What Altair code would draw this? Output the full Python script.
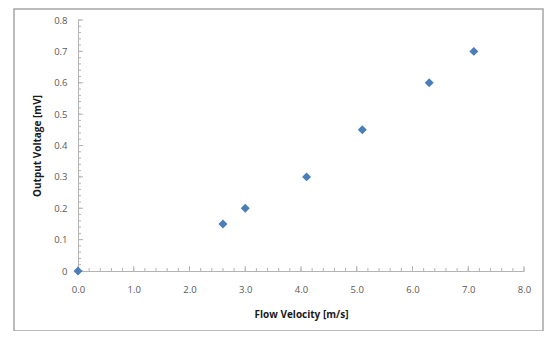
import altair as alt
import pandas as pd

# Data
velocity = [0.0, 2.6, 3.0, 4.1, 5.1, 6.3, 7.1]
voltage = [0.0, 0.15, 0.2, 0.3, 0.45, 0.6, 0.7]

x_major = [0, 1, 2, 3, 4, 5, 6, 7, 8]
y_major = [0.0, 0.1, 0.2, 0.3, 0.4, 0.5, 0.6, 0.7, 0.8]
x_minor = [round(i * 0.2, 2) for i in range(41)]
y_minor = [round(i * 0.02, 3) for i in range(41)]

W, H = 446, 251
FONT = "Open Sans"

pts = pd.DataFrame({"v": velocity, "u": voltage})
xs = alt.Scale(domain=[0, 8], nice=False, zero=False)
ys = alt.Scale(domain=[0, 0.8], nice=False, zero=False)

x_axis = alt.Axis(
    title="Flow Velocity [m/s]", values=x_major, format=".1f", ticks=False,
    grid=False, domainColor="#b3b3b3", domainWidth=1, labelColor="#595959",
    labelFont=FONT, labelFontSize=9.5, labelPadding=13, labelFlush=False,
    labelOverlap=False,
    titleFont=FONT, titleFontSize=10, titleFontWeight="bold", titleColor="#1a1a1a",
    titleY=43, titleBaseline="middle")
y_axis = alt.Axis(
    title="Output Voltage [mV]", values=y_major, ticks=False, grid=False,
    labelExpr="datum.value == 0 ? '0' : format(datum.value, '.1f')",
    domainColor="#b3b3b3", domainWidth=1, labelColor="#595959",
    labelFont=FONT, labelFontSize=9.5, labelPadding=11, labelFlush=False,
    labelOverlap=False,
    titleFont=FONT, titleFontSize=10, titleFontWeight="bold", titleColor="#1a1a1a",
    titleX=-41, titleY=H / 2, titleAngle=-90, titleAlign="center",
    titleBaseline="middle")

frame = alt.Chart(pd.DataFrame({"a": [0]})).mark_rect(
    fillOpacity=0, stroke="#a6a6a6", strokeWidth=1.5
).encode(x=alt.value(-64), x2=alt.value(465), y=alt.value(-11), y2=alt.value(311))

points = alt.Chart(pts).mark_point(
    shape="diamond", filled=True, size=80, color="#4a7ebb", opacity=1
).encode(
    x=alt.X("v:Q", scale=xs, axis=x_axis, title="Flow Velocity [m/s]"),
    y=alt.Y("u:Q", scale=ys, axis=y_axis, title="Output Voltage [mV]"),
)

xmin_df = pd.DataFrame({"t": x_minor})
xmaj_df = pd.DataFrame({"t": x_major})
ymin_df = pd.DataFrame({"t": y_minor})
ymaj_df = pd.DataFrame({"t": y_major})

xminor = alt.Chart(xmin_df).mark_rule(color="#b3b3b3", strokeWidth=1).encode(
    x=alt.X("t:Q", scale=xs, axis=x_axis, title="Flow Velocity [m/s]"),
    y=alt.value(H), y2=alt.value(H - 3))
xmajor = alt.Chart(xmaj_df).mark_rule(color="#b3b3b3", strokeWidth=1).encode(
    x=alt.X("t:Q", scale=xs, axis=x_axis, title="Flow Velocity [m/s]"),
    y=alt.value(H), y2=alt.value(H - 5))
yminor = alt.Chart(ymin_df).mark_rule(color="#b3b3b3", strokeWidth=1).encode(
    y=alt.Y("t:Q", scale=ys, axis=y_axis, title="Output Voltage [mV]"),
    x=alt.value(0), x2=alt.value(3))
ymajor = alt.Chart(ymaj_df).mark_rule(color="#b3b3b3", strokeWidth=1).encode(
    y=alt.Y("t:Q", scale=ys, axis=y_axis, title="Output Voltage [mV]"),
    x=alt.value(0), x2=alt.value(5))

chart = alt.layer(frame, xminor, xmajor, yminor, ymajor, points).properties(
    width=W, height=H,
    autosize=alt.AutoSizeParams(type="none"),
    padding={"left": 70, "top": 12, "right": 20, "bottom": 60},
    background="white",
).configure_view(stroke=None)

chart.save("out.html", embed_options={"renderer": "svg", "actions": False})
